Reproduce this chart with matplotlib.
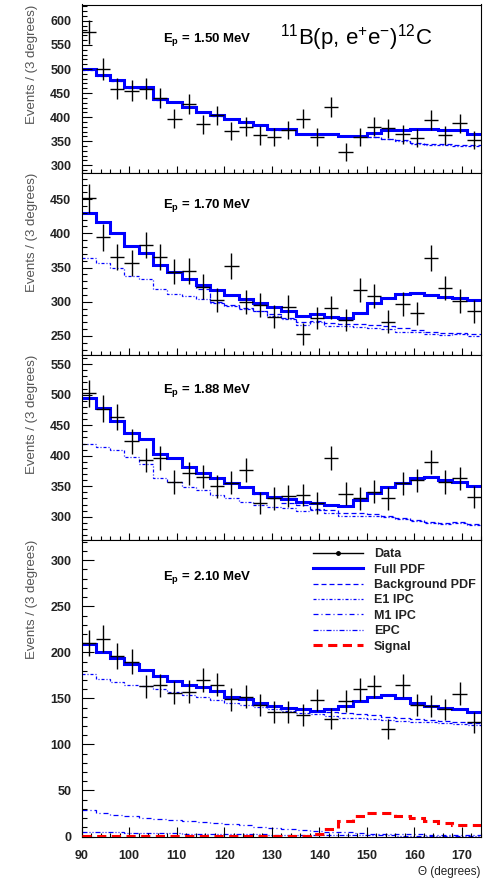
import numpy as np
import matplotlib
matplotlib.use('Agg')
import matplotlib.pyplot as plt
from matplotlib.lines import Line2D
from matplotlib.ticker import MultipleLocator

plt.rcParams['font.family'] = ['Liberation Sans', 'DejaVu Sans']
plt.rcParams['mathtext.fontset'] = 'custom'
plt.rcParams['mathtext.rm'] = 'Liberation Sans'
plt.rcParams['mathtext.it'] = 'Liberation Sans:italic'
plt.rcParams['mathtext.bf'] = 'Liberation Sans:bold'

# 3 degree bins from 90 to 174
edges = np.arange(90, 175, 3)
centers = edges[:-1] + 1.5

energies = ['1.50', '1.70', '1.88', '2.10']
ylims = [(285, 634), (222, 489), (262, 565), (0, 322)]

# Ep = 1.50 MeV
data_150 = [577, 500, 459, 455, 459, 439, 397, 427, 385, 404, 371, 380, 362, 358,
            373, 397, 359, 421, 328, 359, 380, 377, 364, 357, 394, 362, 387, 352]
full_150 = [499, 487, 477, 462, 462, 437, 432, 422, 411, 404, 397, 390, 384, 375,
            376, 366, 366, 366, 361, 361, 368, 373, 373, 376, 376, 373, 373, 366]
bkg_150 = [499, 487, 477, 462, 462, 437, 432, 422, 411, 404, 397, 390, 384, 375,
           376, 366, 366, 366, 361, 361, 359, 355, 352, 346, 345, 344, 343, 342]
e1_150 = [498, 486, 476, 461, 461, 436, 431, 421, 410, 403, 396, 389, 383, 374,
          375, 365, 365, 365, 360, 360, 358, 354, 350, 344, 343, 342, 341, 340]

# Ep = 1.70 MeV
data_170 = [451, 394, 365, 357, 383, 365, 344, 345, 322, 302, 352, 300, 295, 278,
            292, 253, 276, 291, 273, 317, 309, 271, 297, 283, 364, 320, 301, 286]
full_170 = [430, 417, 400, 382, 371, 354, 344, 333, 325, 317, 310, 304, 298, 292,
            286, 279, 282, 278, 276, 284, 298, 305, 311, 313, 310, 307, 305, 302]
bkg_170 = [430, 417, 400, 382, 371, 354, 344, 333, 318, 300, 295, 291, 287, 282,
           276, 271, 272, 269, 268, 267, 266, 264, 262, 258, 256, 254, 254, 252]
e1_170 = [364, 356, 349, 337, 333, 318, 311, 308, 304, 298, 293, 290, 287, 279,
          274, 266, 271, 264, 264, 263, 261, 260, 256, 255, 253, 251, 253, 250]

# Ep = 1.88 MeV
data_188 = [502, 477, 464, 424, 393, 396, 357, 371, 366, 350, 356, 377, 322, 330,
            334, 336, 322, 396, 338, 330, 341, 330, 355, 360, 390, 357, 363, 333]
full_188 = [494, 479, 457, 437, 428, 403, 396, 381, 372, 363, 355, 348, 339, 332,
            329, 325, 323, 319, 317, 327, 339, 349, 356, 363, 365, 360, 357, 350]
bkg_188 = [494, 479, 457, 437, 428, 403, 396, 381, 372, 363, 355, 348, 338, 330,
           322, 320, 313, 311, 307, 306, 304, 302, 298, 295, 292, 290, 291, 288]
e1_188 = [419, 414, 410, 398, 387, 363, 357, 348, 344, 336, 330, 325, 319, 316,
          315, 310, 311, 307, 301, 301, 301, 299, 296, 293, 290, 289, 290, 286]

# Ep = 2.10 MeV
data_210 = [210, 215, 196, 190, 163, 164, 156, 157, 170, 165, 149, 152, 143, 135,
            135, 132, 148, 128, 147, 160, 163, 117, 164, 143, 142, 138, 155, 124]
full_210 = [209, 200, 194, 187, 181, 174, 169, 165, 162, 158, 151, 149, 145, 142,
            140, 138, 136, 138, 142, 147, 152, 154, 150, 145, 142, 140, 138, 135]
bkg_210 = [209, 200, 194, 187, 181, 174, 169, 165, 162, 158, 151, 149, 145, 142,
           140, 138, 136, 135, 134, 133, 132, 130, 129, 128, 127, 125, 124, 123]
e1_210 = [176, 171, 168, 165, 163, 160, 157, 154, 151, 148, 145, 143, 141, 138,
          136, 134, 133, 131, 129, 129, 128, 126, 125, 124, 124, 123, 122, 121]
m1_210 = [29, 25, 23, 22, 20, 19, 18, 16.5, 15.5, 14.5, 13.5, 12, 10.5, 9.5,
          8, 7, 6, 5, 4.5, 3.5, 3, 3, 2.5, 2.5, 2, 2, 2, 2]
epc_210 = [5, 4.5, 4.5, 4, 4, 3.5, 3.5, 3, 3, 3, 2.5, 2.5, 2.5, 2,
           2, 2, 2, 1.5, 1.5, 1.5, 1.5, 1.5, 1, 1, 1, 1, 1, 1]
sig_210 = [1, 1, 1, 1, 1, 1, 1, 1, 1, 1, 1, 1, 1, 1,
           1, 1, 2.5, 8, 17, 22, 26, 25, 22, 20, 17, 14.5, 12.5, 12.5]

BLUE = '#0000ff'
ls_bkg = (0, (4, 2.4))
ls_e1 = (0, (2.4, 1.6, 0.8, 1.6))
ls_m1 = (0, (4, 2.4, 0.8, 2.4))
ls_epc = (0, (4, 1.6, 0.8, 1.6, 0.8, 1.6))
ls_sig = (0, (3, 1.8))

# panel boxes in pixels (top, bottom)
W, H = 491, 881
left_px, right_px = 81.7, 481
boxes = [(4.5, 172.5), (172.5, 355), (355, 540), (540, 836.5)]
ep_y = [0.779, 0.804, 0.796, 0.867]


def setup_axis(ax, ylim, last):
    ax.set_xlim(90, 174)
    ax.set_ylim(*ylim)
    for s in ax.spines.values():
        s.set_linewidth(0.8)
    ax.xaxis.set_major_locator(MultipleLocator(10))
    ax.xaxis.set_minor_locator(MultipleLocator(2))
    ax.yaxis.set_major_locator(MultipleLocator(50))
    ax.yaxis.set_minor_locator(MultipleLocator(10))
    xl = (7.2, 2.9) if last else (5.0, 2.7)
    yl = (8.9, 3.6) if last else (7.2, 3.6)
    ax.tick_params(axis='x', which='major', direction='in', length=xl[0], width=0.8,
                   top=False, labelbottom=last, labelsize=9, pad=9.5)
    ax.tick_params(axis='x', which='minor', direction='in', length=xl[1], width=0.8, top=False)
    ax.tick_params(axis='y', which='major', direction='in', length=yl[0], width=0.8,
                   right=False, labelsize=9, pad=7.5)
    ax.tick_params(axis='y', which='minor', direction='in', length=yl[1], width=0.8, right=False)
    for lab in ax.get_xticklabels() + ax.get_yticklabels():
        lab.set_fontweight('bold')
        lab.set_color('#222222')
    ax.set_ylabel('Events / (3 degrees)', loc='top', fontsize=9.5, color='#555555')
    ax.yaxis.set_label_coords(-0.124, 1.0)
    ax.yaxis.label.set_va('center')


def plot_panel(ax, data, full, bkg, e1):
    data = np.array(data, dtype=float)
    ax.stairs(e1, edges, color=BLUE, lw=0.9, linestyle=ls_e1, baseline=None)
    ax.stairs(bkg, edges, color=BLUE, lw=0.9, linestyle=ls_bkg, baseline=None)
    ax.stairs(full, edges, color=BLUE, lw=2.2, baseline=None)
    ax.errorbar(centers, data, xerr=1.5, yerr=np.sqrt(data), fmt='none',
                ecolor='black', elinewidth=1.0, capsize=0, zorder=5)


fig = plt.figure(figsize=(W / 100, H / 100), dpi=100)
panels = [(data_150, full_150, bkg_150, e1_150),
          (data_170, full_170, bkg_170, e1_170),
          (data_188, full_188, bkg_188, e1_188),
          (data_210, full_210, bkg_210, e1_210)]

axes = []
for i, (top, bot) in enumerate(boxes):
    ax = fig.add_axes([left_px / W, 1 - bot / H, (right_px - left_px) / W, (bot - top) / H])
    plot_panel(ax, *panels[i])
    if i == 3:
        ax.stairs(m1_210, edges, color=BLUE, lw=0.9, linestyle=ls_m1, baseline=None)
        ax.stairs(epc_210, edges, color=BLUE, lw=0.9, linestyle=ls_epc, baseline=None)
        ax.stairs(sig_210, edges, color='#ff0000', lw=2.2, linestyle=ls_sig,
                  baseline=None, zorder=4)
    setup_axis(ax, ylims[i], i == 3)
    ax.text(0.2036, ep_y[i], r'E$_{\mathbf{p}}$ = ' + energies[i] + ' MeV', transform=ax.transAxes,
            fontsize=9.5, fontweight='bold', va='baseline', ha='left')
    axes.append(ax)

axes[0].text(0.497, 0.759, r'$^{11}$B(p, e$^{+}$e$^{-}$)$^{12}$C', transform=axes[0].transAxes,
             fontsize=16, va='baseline', ha='left')

ax = axes[3]
ax.text(1.0, -0.0995, 'Θ (degrees)', transform=ax.transAxes, ha='right', va='top',
        fontsize=8.5, color='#222222')

handles = [
    Line2D([], [], color='black', lw=1.0, marker='o', ms=2.5),
    Line2D([], [], color=BLUE, lw=2.2),
    Line2D([], [], color=BLUE, lw=0.9, linestyle=ls_bkg),
    Line2D([], [], color=BLUE, lw=0.9, linestyle=ls_e1),
    Line2D([], [], color=BLUE, lw=0.9, linestyle=ls_m1),
    Line2D([], [], color=BLUE, lw=0.9, linestyle=ls_epc),
    Line2D([], [], color='#ff0000', lw=2.2, linestyle=ls_sig),
]
labels = ['Data', 'Full PDF', 'Background PDF', 'E1 IPC', 'M1 IPC', 'EPC', 'Signal']
leg = ax.legend(handles, labels, loc='upper left', bbox_to_anchor=(0.579, 0.972),
                frameon=False, borderpad=0, borderaxespad=0, handlelength=4.0,
                handletextpad=0.9, labelspacing=0.27, numpoints=1,
                prop={'size': 9, 'weight': 'bold'})
for t in leg.get_texts():
    t.set_color('#222222')

fig.savefig('out.png', dpi=100)
